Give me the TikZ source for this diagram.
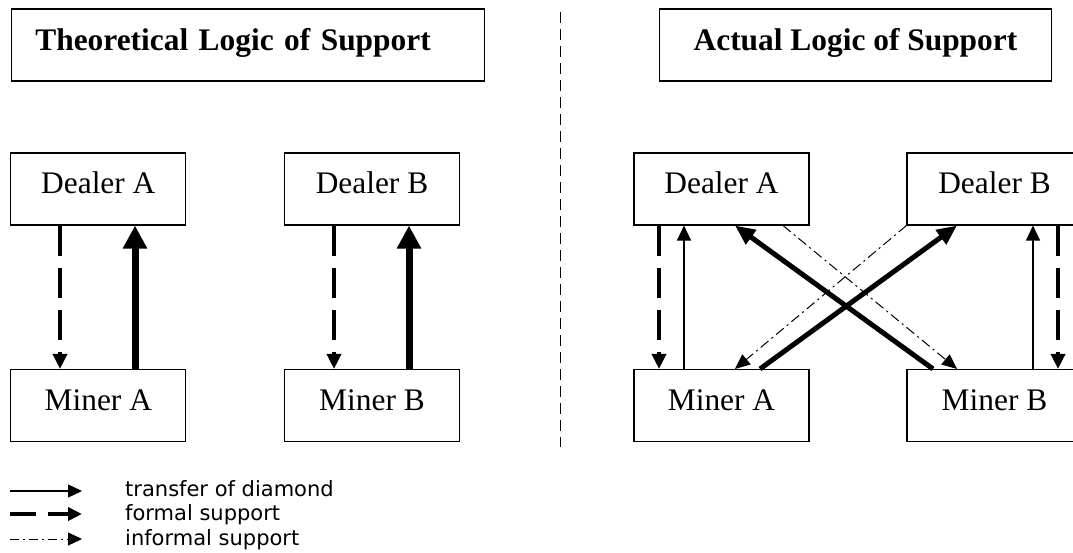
\documentclass[tikz,border=0pt]{standalone}
\usepackage{fontspec}
\setmainfont{Liberation Serif}
\newfontfamily\legendfont{DejaVu Sans}
\usetikzlibrary{arrows.meta}
\begin{document}
\begin{tikzpicture}[x=1pt,y=-1pt,
  box/.style={draw, line width=1.1pt, minimum width=175pt, minimum height=72pt, inner sep=0pt,
    font=\fontsize{31.4}{36}\selectfont, text height=21pt, text depth=11pt},
  titlebox/.style={draw, line width=1.3pt, minimum height=72pt, inner ysep=0pt, anchor=west,
    font=\bfseries\fontsize{31.4}{36}\selectfont, text height=21pt, text depth=9pt, align=left},
  formal/.style={line width=3.5pt, dash pattern=on 30pt off 12pt, -{Triangle[length=15pt,width=14pt]}},
  transfer/.style={line width=1.4pt, -{Triangle[length=15pt,width=14pt]}},
  bigtransfer/.style={line width=7pt, -{Triangle[length=23pt,width=23pt]}},
  cross/.style={line width=5pt, -{Triangle[length=20pt,width=17pt]}},
  informal/.style={line width=1pt, dash pattern=on 10pt off 4pt on 2pt off 4pt, -{Triangle[length=15pt,width=13pt]}},
  legendtext/.style={anchor=base west, inner sep=0pt, font=\legendfont\fontsize{21}{24}\selectfont},
  divider/.style={line width=1pt, dash pattern=on 11pt off 6pt}
]
\useasboundingbox (0,0) rectangle (1073,553);

% titles
\node[titlebox, inner xsep=24pt, text width=425pt] (t1) at (10.7,45) {Theoretical Logic of Support};
\node[titlebox, inner xsep=34pt] (t2) at (659,45) {Actual Logic of Support};

% divider
\coordinate (dtop) at (560,12);
\coordinate (dbot) at (560,447);
\draw[divider] (dtop) -- (dbot);

% left boxes
\node[box] (lda) at (98.3,189) {Dealer A};
\node[box] (ldb) at (372,189) {Dealer B};
\node[box] (lma) at (98.3,405.5) {Miner A};
\node[box] (lmb) at (372,405.5) {Miner B};

% right boxes
\node[box] (rda) at (721.5,189) {Dealer A};
\node[box] (rdb) at (994.5,189) {Dealer B};
\node[box] (rma) at (721.5,405.5) {Miner A};
\node[box] (rmb) at (994.5,405.5) {Miner B};

% left arrows
\draw[formal] (60,0 |- lda.south) -- (60,0 |- lma.north);
\draw[bigtransfer] (135,0 |- lma.north) -- (135,0 |- lda.south);
\draw[formal] (334,0 |- ldb.south) -- (334,0 |- lmb.north);
\draw[bigtransfer] (409,0 |- lmb.north) -- (409,0 |- ldb.south);

% right arrows
\draw[formal] (659,0 |- rda.south) -- (659,0 |- rma.north);
\draw[transfer] (684,0 |- rma.north) -- (684,0 |- rda.south);
\draw[transfer] (1033,0 |- rmb.north) -- (1033,0 |- rdb.south);
\draw[formal] (1058,0 |- rdb.south) -- (1058,0 |- rmb.north);

\draw[informal] (783,0 |- rda.south) -- (957,0 |- rmb.north);
\draw[informal] (rdb.south west) -- (735,0 |- rma.north);
\draw[cross] (933,0 |- rmb.north) -- (735,0 |- rda.south);
\draw[cross] (760,0 |- rma.north) -- (957,0 |- rdb.south);

% legend
\coordinate (a1s) at (10,491); \coordinate (a1e) at (82,491);
\coordinate (a2s) at (10,514); \coordinate (a2e) at (82,514);
\coordinate (a3s) at (10,539); \coordinate (a3e) at (82,539);
\draw[line width=1.3pt, -{Triangle[length=14pt,width=13pt]}] (a1s) -- (a1e);
\draw[line width=3.5pt, dash pattern=on 26pt off 12pt, -{Triangle[length=14pt,width=13pt]}] (a2s) -- (a2e);
\draw[line width=1pt, dash pattern=on 9pt off 4pt on 2pt off 4pt, -{Triangle[length=14pt,width=13pt]}] (a3s) -- (a3e);
\node[legendtext] (l1) at (125,496) {transfer of diamond};
\node[legendtext] (l2) at (125,520) {formal support};
\node[legendtext] (l3) at (125,545) {informal support};
\end{tikzpicture}
\end{document}
